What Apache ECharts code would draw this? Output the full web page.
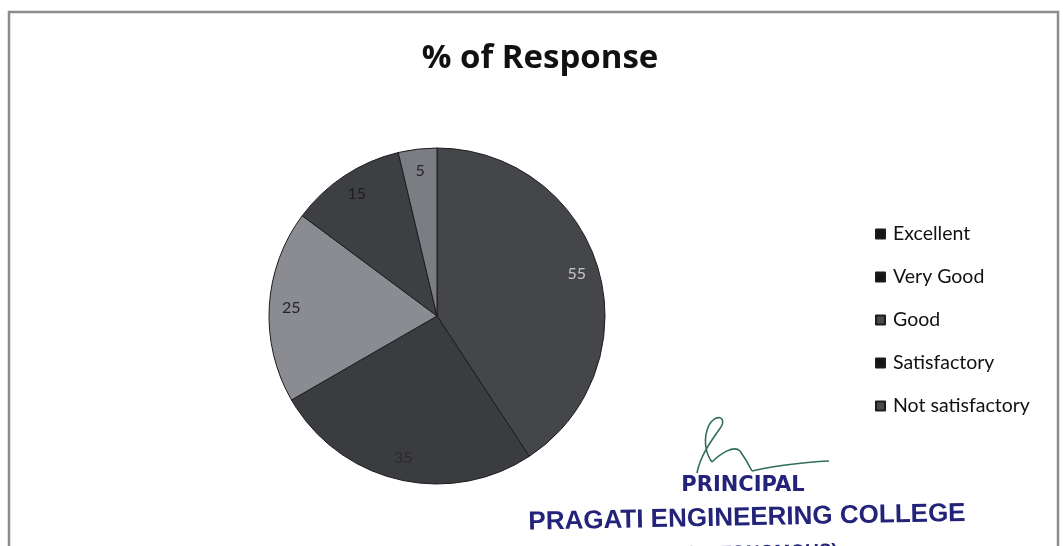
<!DOCTYPE html>
<html>
<head>
<meta charset="utf-8">
<title>% of Response</title>
<script src="https://cdn.jsdelivr.net/npm/echarts@6/dist/echarts.min.js"></script>
<style>
  html, body { margin: 0; padding: 0; background: #ffffff; }
  #chart { width: 1063px; height: 546px; }
</style>
</head>
<body>
<div id="chart"></div>
<script>
// Response categories and their percentage shares
const categories = ['Excellent', 'Very Good', 'Good', 'Satisfactory', 'Not satisfactory'];
const responses = [55, 35, 25, 15, 5];

// Palette: slice fills, legend swatches, and value label colours
const sliceColors = ['#45464a', '#3b3c40', '#8b8c91', '#3e3f43', '#7c7d82'];
const legendColors = ['#151517', '#151517', '#4a4a4e', '#151517', '#4a4a4e'];
const labelColors = ['#c6c6c8', '#2c2c30', '#232327', '#1e1e22', '#26262a'];

const chart = echarts.init(document.getElementById('chart'), null, { renderer: 'canvas' });

const pieCenter = [437, 316];
const pieRadius = 168;

// signature strokes as cubic bezier segments
const signatureSegments = [
  [697, 473, 721, 427, 700, 456, 711, 441],
  [721, 427, 709, 425, 727, 417, 716, 413],
  [709, 425, 712, 462, 703, 438, 705, 453],
  [712, 462, 740, 451, 721, 453, 734, 445],
  [740, 451, 752, 471, 745, 458, 749, 465],
  [752, 471, 829, 461, 763, 468, 800, 462]
];

const stampColor = '#23237a';

const option = {
  backgroundColor: '#ffffff',
  animation: false,
  title: {
    text: '% of Response',
    left: 535,
    top: 37,
    textAlign: 'center',
    textStyle: {
      fontFamily: 'Open Sans',
      fontWeight: 'bold',
      fontSize: 33,
      color: '#111111'
    }
  },
  legend: {
    orient: 'vertical',
    left: 875,
    top: 224,
    padding: 0,
    icon: 'rect',
    itemWidth: 9,
    itemHeight: 9,
    itemGap: 23,
    selectedMode: false,
    textStyle: {
      fontFamily: 'Lato',
      fontSize: 19.5,
      lineHeight: 20,
      color: '#111111',
      padding: [0, 0, 0, 3]
    },
    data: categories.map((name, i) => ({
      name: name,
      itemStyle: { color: legendColors[i] }
    }))
  },
  series: [
    {
      name: 'Response',
      type: 'pie',
      center: pieCenter,
      radius: pieRadius,
      startAngle: 90,
      clockwise: true,
      label: { show: false },
      labelLine: { show: false },
      itemStyle: { borderColor: '#1c1c20', borderWidth: 1 },
      emphasis: { disabled: true },
      data: categories.map((name, i) => ({
        name: name,
        value: responses[i],
        itemStyle: { color: sliceColors[i] }
      }))
    },
    {
      // transparent ring that carries the value labels near the rim
      name: 'Values',
      type: 'pie',
      center: pieCenter,
      radius: [118, pieRadius],
      startAngle: 90,
      clockwise: true,
      silent: true,
      itemStyle: { color: 'rgba(0,0,0,0)', borderWidth: 0 },
      labelLine: { show: false },
      emphasis: { disabled: true },
      label: {
        show: true,
        position: 'inside',
        formatter: '{c}',
        fontFamily: 'Lato',
        fontSize: 16
      },
      data: categories.map((name, i) => ({
        name: name,
        value: responses[i],
        label: { color: labelColors[i] }
      }))
    }
  ],
  graphic: [
    {
      // chart frame
      type: 'rect',
      shape: { x: 9, y: 12, width: 1049, height: 560 },
      style: { fill: 'none', stroke: '#8c8c8c', lineWidth: 2.5 },
      silent: true,
      z: 10
    },
    ...signatureSegments.map(s => ({
      type: 'bezierCurve',
      shape: { x1: s[0], y1: s[1], x2: s[2], y2: s[3], cpx1: s[4], cpy1: s[5], cpx2: s[6], cpy2: s[7] },
      style: { fill: 'none', stroke: '#2f6d60', lineWidth: 1.6 },
      silent: true,
      z: 11
    })),
    {
      type: 'text',
      x: 743,
      y: 486,
      style: {
        text: 'PRINCIPAL',
        font: 'bold 21px "DejaVu Sans"',
        fill: stampColor,
        align: 'center',
        verticalAlign: 'middle'
      },
      silent: true,
      z: 11
    },
    {
      type: 'text',
      x: 747,
      y: 518,
      rotation: 0.02,
      style: {
        text: 'PRAGATI ENGINEERING COLLEGE',
        font: 'bold 26px "Liberation Sans"',
        fill: stampColor,
        align: 'center',
        verticalAlign: 'middle'
      },
      silent: true,
      z: 11
    },
    {
      type: 'text',
      x: 762,
      y: 553,
      rotation: 0.02,
      style: {
        text: '(AUTONOMOUS)',
        font: 'bold 19px "Liberation Sans"',
        fill: stampColor,
        align: 'center',
        verticalAlign: 'middle'
      },
      silent: true,
      z: 11
    }
  ]
};

chart.setOption(option);
</script>
</body>
</html>
